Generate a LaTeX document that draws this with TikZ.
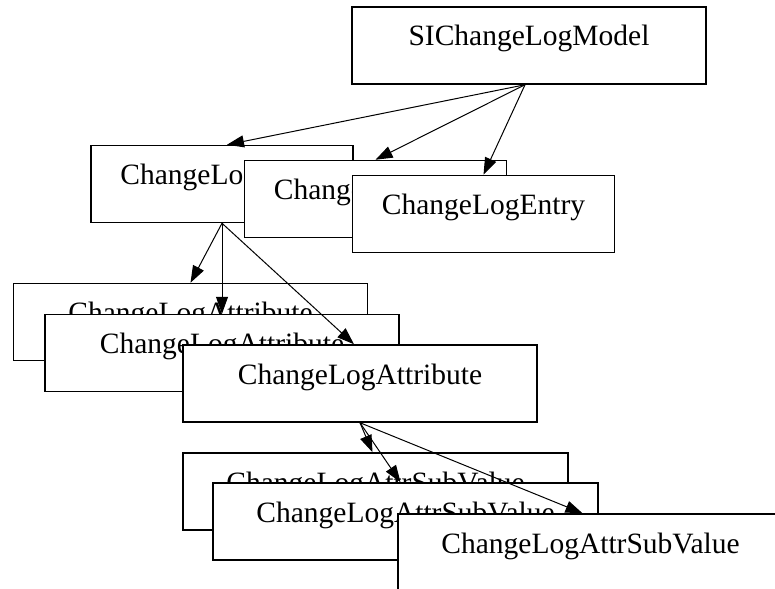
\documentclass[tikz,border=0pt]{standalone}
\usepackage{fontspec}
\setmainfont{Liberation Serif}
\usetikzlibrary{arrows.meta}
\begin{document}
\begin{tikzpicture}[x=1pt,y=-1pt,
  box/.style={draw=black, line width=1.5pt, fill=white, rectangle, inner sep=0pt,
    minimum height=77pt, text height=20pt, text depth=19pt,
    font=\fontsize{29.5}{32}\selectfont},
  wA/.style={minimum width=262pt},
  wB/.style={minimum width=354pt},
  wC/.style={minimum width=385pt},
  edge/.style={draw=black, line width=1pt, -{Triangle[length=17pt,width=12pt]}}]
\clip (0,0) rectangle (775,588);
\fill[white] (0,0) rectangle (775,588);
% level 0
\node[box,wB] (M) at (529,45.5) {SIChangeLogModel};
% level 1
\node[box,wA] (A) at (222,184) {ChangeLogEntry};
\node[box,wA] (B) at (375.5,199) {ChangeLogEntry};
\node[box,wA] (C) at (483.5,214) {ChangeLogEntry};
% level 2
\node[box,wB] (D) at (190.5,322) {ChangeLogAttribute};
\node[box,wB] (E) at (222,353) {ChangeLogAttribute};
\node[box,wB] (F) at (360,383.5) {ChangeLogAttribute};
% level 3
\node[box,wC] (G) at (375.5,491.5) {ChangeLogAttrSubValue};
\node[box,wC] (H) at (405.5,521.5) {ChangeLogAttrSubValue};
\node[box,wC] (I) at (590.5,552.5) {ChangeLogAttrSubValue};
% edges
\draw[edge] ([xshift=-4pt]M.south) -- ([xshift=5pt]A.north);
\draw[edge] ([xshift=-4pt]M.south) -- (B.north);
\draw[edge] ([xshift=-4pt]M.south) -- (C.north);
\draw[edge] (A.south) -- (D.north);
\draw[edge] (A.south) -- (E.north);
\draw[edge] (A.south) -- ([xshift=-6pt]F.north);
\draw[edge] (F.south) -- ([xshift=-3pt]G.north);
\draw[edge] (F.south) -- ([xshift=-5pt]H.north);
\draw[edge] (F.south) -- ([xshift=-8pt]I.north);
\end{tikzpicture}
\end{document}
